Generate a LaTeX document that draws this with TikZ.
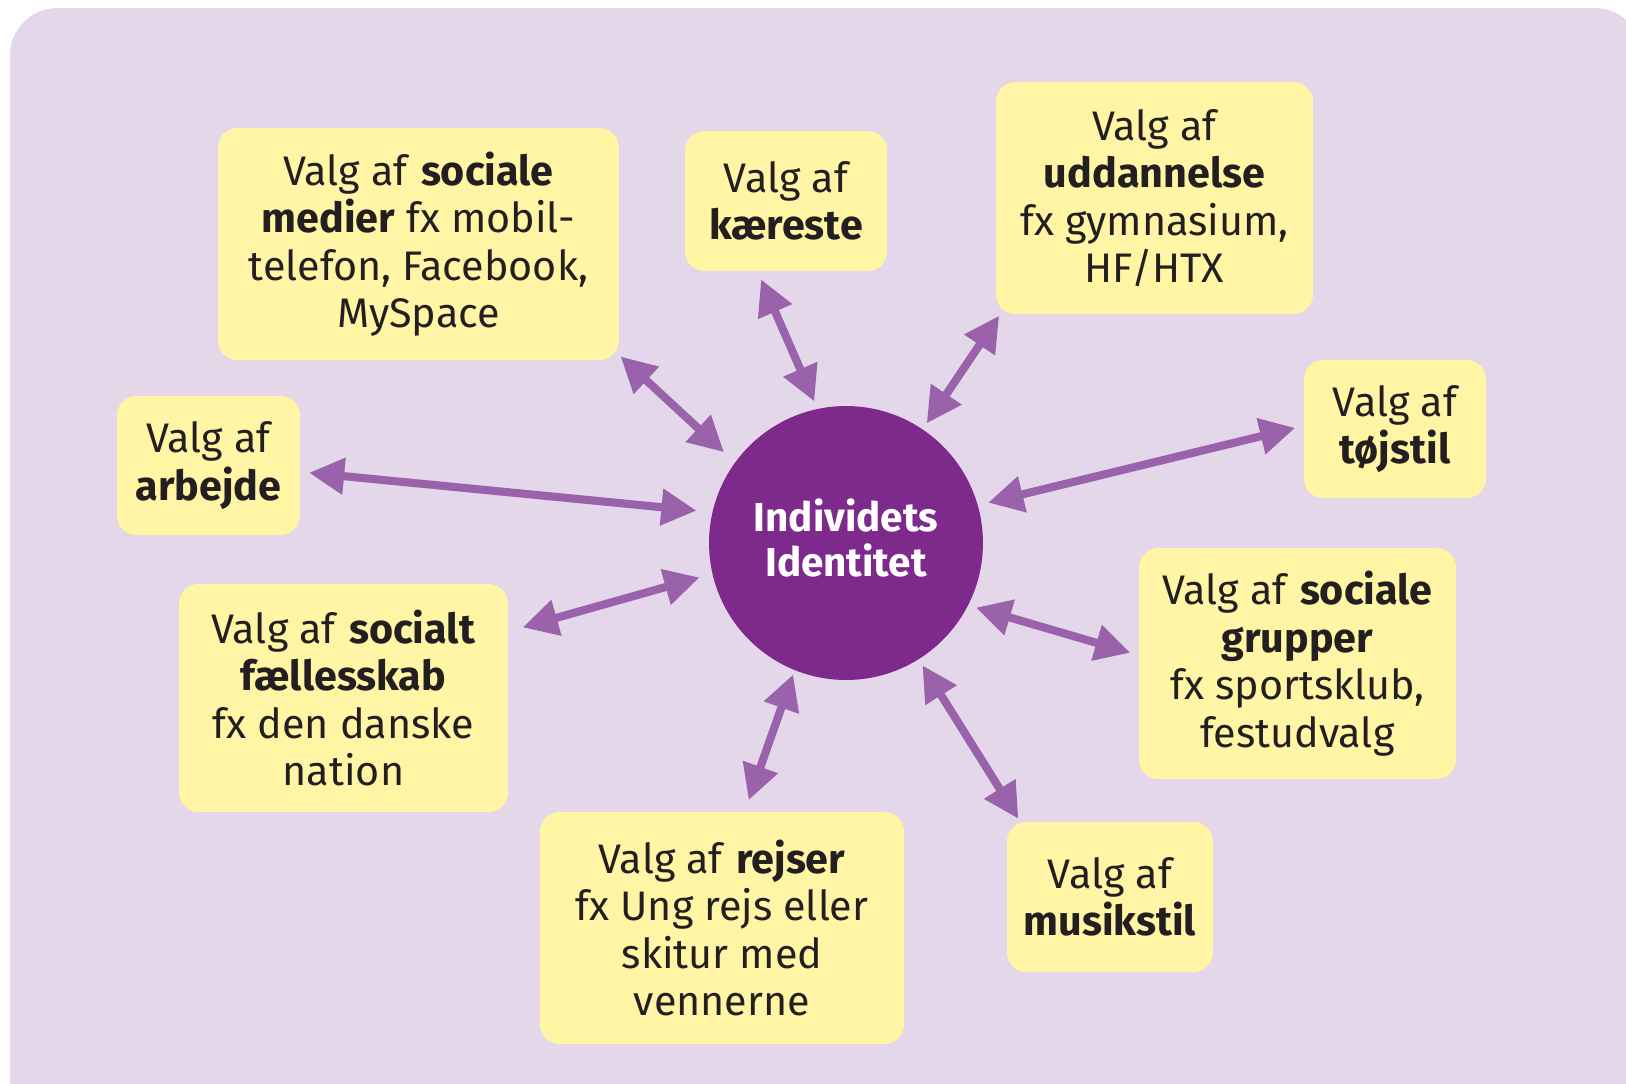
\documentclass[tikz,border=0pt]{standalone}
\usepackage{fontspec}
\setmainfont{Fira Sans}
\usetikzlibrary{arrows.meta}
\definecolor{lavender-bg}{HTML}{E3D7E9}
\definecolor{box-yellow}{HTML}{FFF5A5}
\definecolor{hub-purple}{HTML}{7E2A8D}
\definecolor{link-purple}{HTML}{9A62AB}
\definecolor{ink}{HTML}{231F20}

\begin{document}
\begin{tikzpicture}[x=0.02cm, y=-0.02cm,
    every node/.style={font=\fontsize{23.5}{27}\selectfont, text=ink},
    choice/.style={fill=box-yellow, rounded corners=11pt, align=center, inner sep=0},
    link/.style={link-purple, line width=4.6pt, shorten <=5pt, shorten >=5pt,
      {Triangle[length=20pt,width=20pt]}-{Triangle[length=20pt,width=20pt]}}]
    \useasboundingbox (0,0) rectangle (1626,1083);
    \fill[lavender-bg, rounded corners=27pt] (10,8) rectangle (1642,1130);

    \node[circle, fill=hub-purple, minimum size=5.48cm, inner sep=0, align=center,
      text=white, text depth=6pt, font=\fontsize{23}{26}\selectfont\bfseries]
      (hub) at (846,543) {Individets\\Identitet};

    \node[choice, minimum width=8.02cm, minimum height=4.64cm]
      (medier) at (418.5,244)
      {Valg af \textbf{sociale}\\\textbf{medier} fx mobil-\\telefon, Facebook,\\MySpace};
    \node[choice, minimum width=4.04cm, minimum height=2.80cm]
      (kaereste) at (786,201) {Valg af\\\textbf{kæreste}};
    \node[choice, minimum width=6.34cm, minimum height=4.64cm]
      (uddannelse) at (1154.5,198)
      {Valg af\\\textbf{uddannelse}\\fx gymnasium,\\HF/HTX};
    \node[choice, minimum width=3.64cm, minimum height=2.76cm]
      (tojstil) at (1395,429) {Valg af\\\textbf{tøjstil}};
    \node[choice, minimum width=3.66cm, minimum height=2.78cm]
      (arbejde) at (208.5,465.5) {Valg af\\\textbf{arbejde}};
    \node[choice, minimum width=6.58cm, minimum height=4.56cm]
      (faelles) at (343.5,698)
      {Valg af \textbf{socialt}\\\textbf{fællesskab}\\fx den danske\\nation};
    \node[choice, minimum width=6.34cm, minimum height=4.62cm]
      (grupper) at (1297.5,663.5)
      {Valg af \textbf{sociale}\\\textbf{grupper}\\fx sportsklub,\\festudvalg};
    \node[choice, minimum width=7.28cm, minimum height=4.64cm]
      (rejser) at (722,928)
      {Valg af \textbf{rejser}\\fx Ung rejs eller\\skitur med\\vennerne};
    \node[choice, minimum width=4.12cm, minimum height=3.00cm]
      (musik) at (1110,897) {Valg af\\\textbf{musikstil}};

    \draw[link, shorten <=1pt, shorten >=8.5pt] (medier.-29) -- (hub.144);
    \draw[link, shorten >=4.5pt] (kaereste.248) -- (hub.102);
    \draw[link, shorten <=1pt, shorten >=4pt] (uddannelse.217) -- (hub.56);
    \draw[link, shorten >=6pt] (tojstil.178) -- (hub.16);
    \draw[link, shorten >=9pt] (arbejde.-4) -- (hub.167);
    \draw[link, shorten <=8.5pt, shorten >=7.5pt] (faelles.22) -- (hub.193);
    \draw[link, shorten >=4.5pt] (grupper.177) -- (hub.-27);
    \draw[link, shorten <=7pt, shorten >=2.5pt] (rejser.79) -- (hub.248);
    \draw[link, shorten <=2pt, shorten >=4pt] (musik.140) -- (hub.-58);
\end{tikzpicture}
\end{document}
